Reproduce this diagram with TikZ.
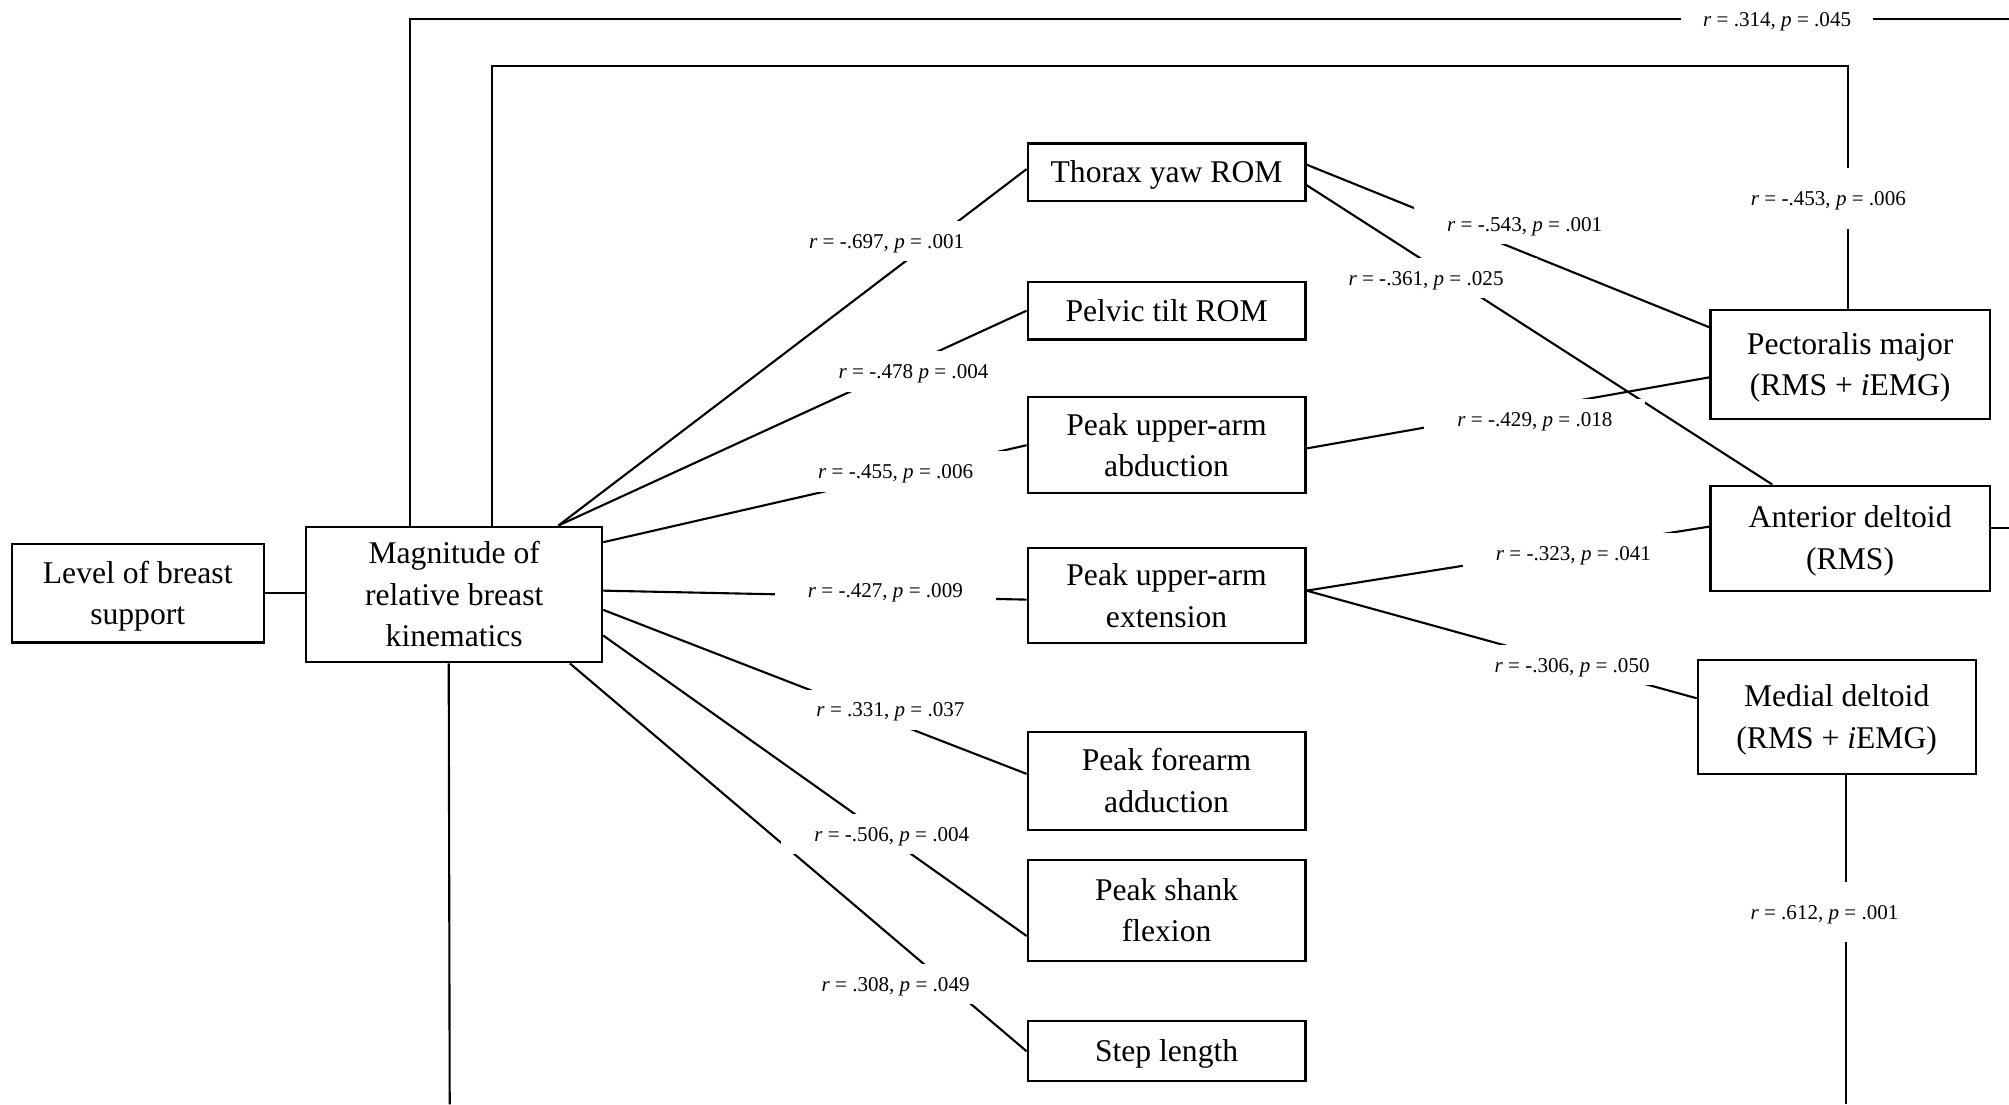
\documentclass[tikz,border=0pt]{standalone}
\usepackage{fontspec}
\setmainfont{Liberation Serif}
\usetikzlibrary{calc}
\newcommand{\rp}[2]{\textit{r} = #1, \textit{p} = #2}
\newcommand{\bx}[1]{\rule{0pt}{8pt}#1\rule[-1.95pt]{0pt}{0pt}}

\begin{document}
\begin{tikzpicture}[x=0.012813cm,y=-0.012813cm,line width=0.6pt,
  box/.style={draw,minimum width=2.78cm,align=center,inner sep=0pt,font=\fontsize{9}{11.85}\selectfont},
  lab/.style={fill=white,inner xsep=0.33cm,inner ysep=0.085cm,font=\fontsize{6}{7}\selectfont,
    execute at begin node={\rule{0pt}{5.35pt}}}]

\useasboundingbox (0,0) rectangle (1568,862);

\node[box,minimum width=2.524cm,minimum height=0.987cm] (lev) at (107.5,463) {\bx{Level of breast\\support}};
\node[box,minimum width=2.96cm,minimum height=1.358cm] (mag) at (354.5,464) {\bx{Magnitude of\\relative breast\\kinematics}};

\node[box,minimum height=0.577cm] (thorax) at (910.5,134.5) {\bx{Thorax yaw ROM}};
\node[box,minimum height=0.577cm] (pelvic) at (910.5,242.5) {\bx{Pelvic tilt ROM}};
\node[box,minimum height=0.961cm] (abd) at (910.5,347.5) {\bx{Peak upper-arm\\abduction}};
\node[box,minimum height=0.948cm] (ext) at (910.5,465) {\bx{Peak upper-arm\\extension}};
\node[box,minimum height=0.987cm] (fore) at (910.5,609.5) {\bx{Peak forearm\\adduction}};
\node[box,minimum height=1.012cm] (shank) at (910.5,710.5) {\bx{Peak shank\\flexion}};
\node[box,minimum height=0.602cm] (step) at (910.5,820.5) {\bx{Step length}};

\node[box,minimum width=2.793cm,minimum height=1.089cm] (pect) at (1444,284.5) {\bx{Pectoralis major\\(RMS + \textit{i}EMG)}};
\node[box,minimum width=2.793cm,minimum height=1.051cm] (ant) at (1444,420) {\bx{Anterior deltoid\\(RMS)}};
\node[box,minimum height=1.14cm] (med) at (1433.5,559.5) {\bx{Medial deltoid\\(RMS + \textit{i}EMG)}};

\coordinate (topend) at (1568,15);
\coordinate (magend) at (351,862);
\coordinate (medend) at (1441,862);
\coordinate (antend) at (1568,412);

\draw (lev.east) -- (lev.east -| mag.west);
\draw ($(mag.north west)+(82,0)$) |- (topend);
\draw ($(mag.north west)+(146,0)$) -- ++(0,-359) -| ($(pect.north)+(-2,0)$);
\draw ($(mag.south west)+(112,0)$) -- (magend);
\draw ($(med.south)+(7.5,0)$) -- (medend);
\draw ($(ant.east)+(0,-8)$) -- (antend);

\draw ($(mag.north east)+(-35,0)$) -- ($(thorax.west)+(0,-2.5)$);
\draw ($(mag.north east)+(-35,0)$) -- (pelvic.west);
\draw ($(mag.north east)+(0,13)$) -- (abd.west);
\draw ($(mag.east)+(0,-3)$) -- ($(ext.west)+(0,3)$);
\draw ($(mag.east)+(0,12)$) -- ($(fore.west)+(0,-5.5)$);
\draw ($(mag.east)+(0,32)$) -- ($(shank.west)+(0,20)$);
\draw ($(mag.south east)+(-26,0)$) -- (step.west);

\draw ($(thorax.east)+(0,-6)$) -- ($(pect.west)+(0,-29)$);
\draw ($(thorax.east)+(0,10)$) -- ($(ant.north west)+(49,0)$);
\draw ($(abd.east)+(0,2.5)$) -- ($(pect.west)+(0,10)$);
\draw ($(ext.east)+(0,-4)$) -- ($(ant.west)+(0,-9)$);
\draw ($(ext.east)+(0,-4)$) -- ($(med.west)+(0,-14.5)$);

\node[lab,inner xsep=0.22cm] (l314) at (1387,15) {\rp{.314}{.045}};
\node[lab,inner ysep=0.185cm] (l453) at (1427,155) {\rp{-.453}{.006}};
\node[lab] (l697) at (692,188) {\rp{-.697}{.001}};
\node[lab] (l478) at (713,290) {\textit{r} = -.478 \textit{p} = .004};
\node[lab] (l455) at (699,368) {\rp{-.455}{.006}};
\node[lab] (l427) at (691,461) {\rp{-.427}{.009}};
\node[lab] (l331) at (695,554) {\rp{.331}{.037}};
\node[lab] (l506) at (696,651) {\rp{-.506}{.004}};
\node[lab] (l308) at (699,768) {\rp{.308}{.049}};
\node[lab] (l543) at (1190,175) {\rp{-.543}{.001}};
\node[lab] (l361) at (1113,217) {\rp{-.361}{.025}};
\node[lab] (l429) at (1198,327) {\rp{-.429}{.018}};
\node[lab] (l323) at (1228,432) {\rp{-.323}{.041}};
\node[lab] (l306) at (1227,519) {\rp{-.306}{.050}};
\node[lab,inner ysep=0.185cm] (l612) at (1424,712) {\rp{.612}{.001}};
\end{tikzpicture}
\end{document}
